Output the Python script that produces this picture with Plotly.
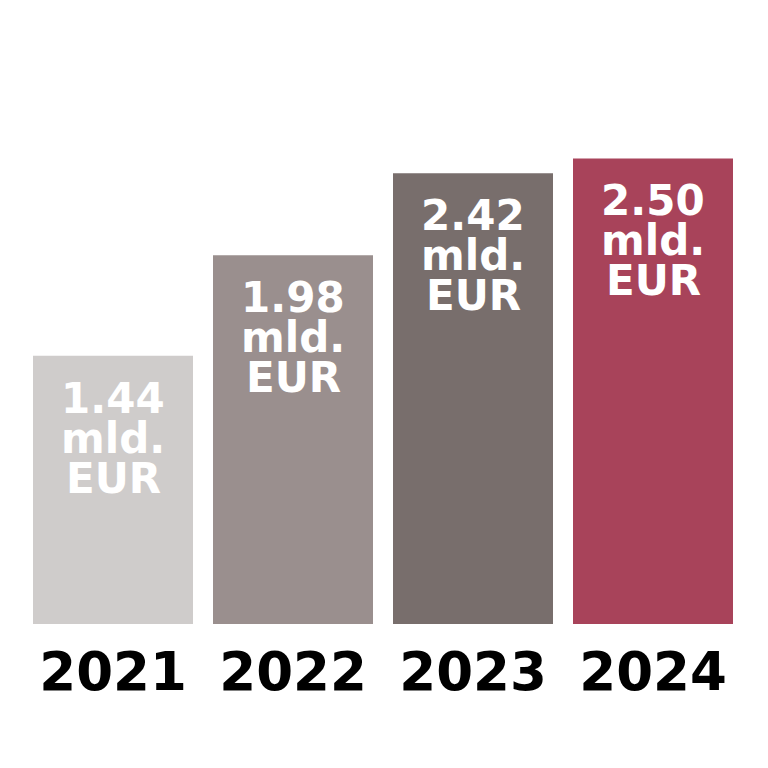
import plotly.graph_objects as go

years = ["2021", "2022", "2023", "2024"]
values = [1.44, 1.98, 2.42, 2.50]
labels = ["1.44", "1.98", "2.42", "2.50"]
unit_lines = ["mld.", "EUR"]
colors = ["#CFCCCB", "#9A8F8E", "#786E6C", "#A8435A"]

pos = list(range(len(years)))

fig = go.Figure(go.Bar(x=pos, y=values, width=160 / 180,
                       marker=dict(color=colors, line=dict(width=0)),
                       hoverinfo="skip"))

annotations = []
for p, v, lab in zip(pos, values, labels):
    for i, txt in enumerate([lab] + unit_lines):
        annotations.append(dict(x=p, y=v, xref="x", yref="y", text=txt, showarrow=False,
                                yanchor="middle", xanchor="center", yshift=-42 - 40 * i,
                                height=38, valign="middle", borderpad=0,
                                font=dict(family="DejaVu Sans", size=42, color="white", weight="bold")))

fig.update_layout(
    width=768, height=768,
    margin=dict(l=15, r=33, t=20, b=152),
    paper_bgcolor="white", plot_bgcolor="white",
    showlegend=False,
    annotations=annotations,
    xaxis=dict(range=[-0.5, 3.5], tickmode="array", tickvals=pos, ticktext=years,
               showgrid=False, zeroline=False, showline=False, ticks="outside",
               ticklen=1, tickcolor="rgba(0,0,0,0)",
               tickfont=dict(family="DejaVu Sans", size=53, color="black", weight="bold")),
    yaxis=dict(range=[0, 3.2], visible=False, showgrid=False, zeroline=False),
)

fig.write_html("out.html")
